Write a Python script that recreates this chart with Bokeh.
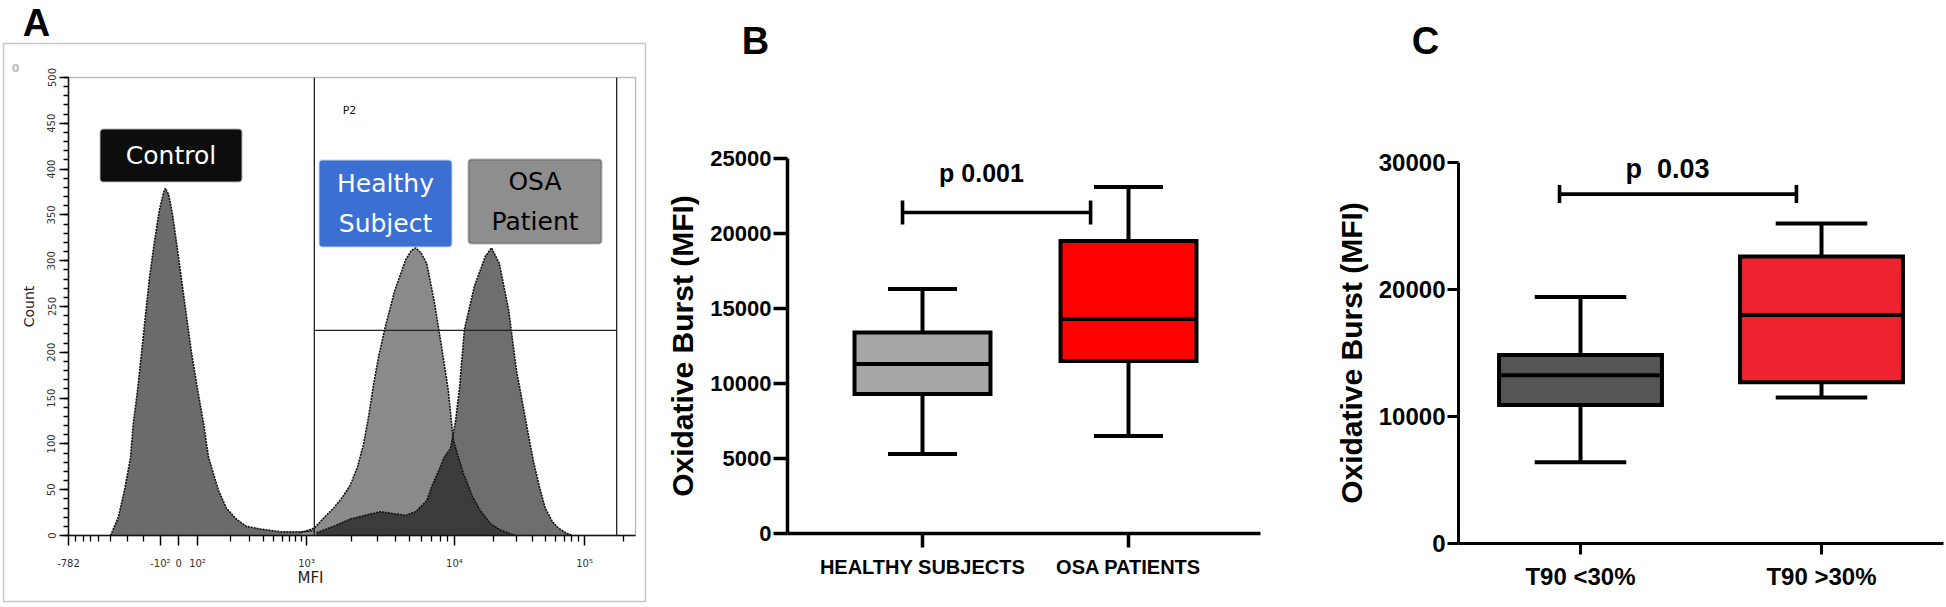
import math
from bokeh.plotting import figure
from bokeh.models import Range1d, FixedTicker, Label, BoxAnnotation
from bokeh.layouts import row
from bokeh.embed import file_html
from bokeh.resources import INLINE

# ---------------- Panel A : flow cytometry histogram (display channels 0-1024) ----------------
control_ch = [76, 90, 101, 112, 117, 125, 132, 139, 146, 155, 164, 172, 175, 181, 188, 195, 204, 213,
              222, 233, 244, 253, 271, 285, 303, 321, 347, 383, 419, 444]
control_count = [0, 20, 49, 85, 122, 160, 200, 240, 280, 320, 355, 375, 379, 372, 350, 320, 280, 240,
                 200, 160, 122, 85, 49, 30, 18, 10, 7, 4, 4, 5]
healthy_ch = [419, 444, 459, 479, 495, 509, 522, 533, 542, 551, 560, 571, 589, 609, 619, 627, 636, 647,
              661, 674, 686, 695, 713, 730, 744, 762, 780, 798, 807]
healthy_count = [3, 8, 18, 30, 42, 55, 75, 100, 130, 165, 195, 225, 267, 301, 311, 314, 309, 297,
                 254, 205, 158, 104, 68, 42, 27, 13, 6, 2, 0]
osa_ch = [448, 479, 509, 536, 563, 585, 609, 627, 647, 657, 668, 679, 690, 699, 706, 715, 733, 753,
          764, 778, 795, 809, 816, 829, 840, 851, 861, 874, 885, 898, 910]
osa_count = [3, 10, 18, 22, 26, 24, 22, 26, 38, 55, 70, 86, 95, 125, 160, 225, 272, 305,
             314, 297, 246, 180, 158, 115, 80, 52, 30, 15, 8, 3, 0]
gate_left_ch = 444
gate_right_ch = 990
gate_count = 224
a_tick_ch = [0, 166, 199, 233, 430, 697, 932]
a_tick_labels = ["-782", "-10\u00b2", "0", "10\u00b2", "10\u00b3", "10\u2074", "10\u2075"]

# ---------------- Panel B ----------------
b_groups = ["HEALTHY SUBJECTS", "OSA PATIENTS"]
b_min = [5300, 6500]
b_q1 = [9300, 11500]
b_median = [11300, 14300]
b_q3 = [13400, 19500]
b_max = [16300, 23100]
b_colors = ["#a6a6a6", "#ff0000"]
b_pvalue = "p 0.001"
b_bracket = [0.903, 1.816, 21400]

# ---------------- Panel C ----------------
c_groups = ["T90 <30%", "T90 >30%"]
c_min = [6400, 11500]
c_q1 = [10900, 12700]
c_median = [13250, 18000]
c_q3 = [14850, 22600]
c_max = [19400, 25200]
c_colors = ["#555555", "#ef2330"]
c_pvalue = "p\u00a0\u00a00.03"
c_bracket = [0.913, 1.896, 27512]

FONT = "Liberation Sans"
H = 607


def make_fig(width, xr, yr):
    p = figure(width=width, height=H, x_range=Range1d(*xr), y_range=Range1d(*yr),
               output_backend="svg", toolbar_location=None, min_border=0)
    p.min_border_left = p.min_border_right = p.min_border_top = p.min_border_bottom = 0
    p.title.visible = False
    p.grid.visible = False
    p.outline_line_color = None
    p.background_fill_color = "white"
    p.border_fill_color = "white"
    return p


# ================= Panel A (page x 0..655) =================
def ach(px):
    return (px - 68) * 1024 / 567


def acnt(py):
    return (535 - py) * 500 / 458


pA = make_fig(655, (ach(0), ach(655)), (acnt(H), acnt(0)))

pA.varea(x=control_ch, y1=0, y2=control_count, fill_color="#6b6b6b")
pA.varea(x=healthy_ch, y1=0, y2=healthy_count, fill_color="#8a8a8a")
pA.varea(x=osa_ch, y1=0, y2=osa_count, fill_color="#000000", fill_alpha=0.57)
for xs, ys in [(control_ch, control_count), (healthy_ch, healthy_count), (osa_ch, osa_count)]:
    pA.line(xs, ys, line_color="#111111", line_width=1.6, line_dash="2 1")

# gate P2
pA.segment(x0=[gate_left_ch, gate_left_ch, gate_right_ch], y0=[0, gate_count, 0],
           x1=[gate_left_ch, gate_right_ch, gate_right_ch], y1=[500, gate_count, 500],
           line_color="#222222", line_width=1.3)
# plot box (top / right)
pA.add_layout(BoxAnnotation(left=0, right=1024, bottom=0, top=500, fill_alpha=0,
                            line_color="#222222", line_width=1.4))

minor_px = [75, 83, 90, 98, 110, 127, 143]
for lo, hi in [(197, 306), (306, 454), (454, 584)]:
    minor_px += [lo + math.log10(k) * (hi - lo) for k in range(2, 10)]
minor_px.append(584 + math.log10(2) * 130)

xa = pA.xaxis[0]
xa.fixed_location = 0
xa.bounds = (0, 1024)
xa.ticker = FixedTicker(ticks=a_tick_ch, minor_ticks=[ach(v) for v in minor_px])
xa.major_label_overrides = {t: l for t, l in zip(a_tick_ch, a_tick_labels)}
xa.major_tick_out = 10
xa.major_tick_in = 0
xa.minor_tick_out = 6
xa.minor_tick_in = 0
xa.major_label_standoff = 12

ya = pA.yaxis[0]
ya.fixed_location = 0
ya.bounds = (0, 500)
ya.ticker = FixedTicker(ticks=list(range(0, 501, 50)), minor_ticks=list(range(0, 501, 10)))
ya.major_label_orientation = "vertical"
ya.major_tick_out = 9
ya.major_tick_in = 0
ya.minor_tick_out = 5
ya.minor_tick_in = 0
ya.major_label_standoff = 4
ya.axis_label = "Count"
ya.axis_label_text_font = "DejaVu Sans"
ya.axis_label_text_font_style = "normal"
ya.axis_label_text_font_size = "14px"
ya.axis_label_text_color = "#222222"
ya.axis_label_standoff = 8
for ax in (xa, ya):
    ax.axis_line_width = 1.5
    ax.axis_line_color = "#111111"
    ax.major_tick_line_width = 1.5
    ax.minor_tick_line_width = 1.3
    ax.major_label_text_font = "DejaVu Sans"
    ax.major_label_text_font_size = "10px"
    ax.major_label_text_color = "#333333"

# outer frame of panel A
pA.add_layout(BoxAnnotation(left=ach(3), right=ach(645), top=acnt(43), bottom=acnt(601),
                            fill_alpha=0, line_color="#444444", line_width=1.5))
pA.add_layout(Label(x=ach(310), y=acnt(577), text="MFI", text_align="center",
                    text_baseline="middle", text_font="DejaVu Sans", text_font_size="15px",
                    text_color="#222222"))
pA.add_layout(Label(x=ach(36), y=acnt(22), text="A", text_align="center", text_baseline="middle",
                    text_font=FONT, text_font_style="bold", text_font_size="38px", text_color="black"))
pA.add_layout(Label(x=ach(15), y=acnt(67), text="0", text_align="center", text_baseline="middle",
                    text_font="DejaVu Sans", text_font_size="11px", text_color="#bbbbbb",
                    text_font_style="bold"))
pA.add_layout(Label(x=ach(349), y=acnt(110), text="P2", text_align="center", text_baseline="middle",
                    text_font="DejaVu Sans", text_font_size="11px", text_color="#111111"))

# tag boxes
tags = [
    ("Control", 100, 241, 129, 181, "#0d0d0d", "#0d0d0d", "white"),
    ("Healthy\nSubject", 319, 451, 160, 246, "#3b70d2", "#3b70d2", "white"),
    ("OSA\nPatient", 468, 601, 159, 243, "#8e8e8e", "#222222", "black"),
]
for text, l, r, t, b, fill, edge, tcol in tags:
    pA.add_layout(BoxAnnotation(left=ach(l), right=ach(r), top=acnt(t), bottom=acnt(b),
                                fill_color=fill, fill_alpha=1, line_color=edge, line_width=2,
                                border_radius=3))
    pA.add_layout(Label(x=ach((l + r) / 2), y=acnt((t + b) / 2), text=text, text_align="center",
                        text_baseline="middle", text_font="DejaVu Sans", text_font_size="25px",
                        text_color=tcol, text_line_height=1.4))


# ================= box plot panels =================
def box_panel(groups, mins, q1, med, q3, maxs, colors, bracket, ptext, letter, *, width, fx, fy,
              page_x, axis_px, y_end, tick_step, box_w, cap_w, lw, axis_lw, tick_out, tick_font,
              cat_font, label_font, p_font, letter_px, p_px, br_tick_px):
    p = make_fig(width, (fx(page_x[0]), fx(page_x[1])), (fy(H), fy(0)))
    xs = list(range(1, len(groups) + 1))
    p.segment(x0=xs, y0=q3, x1=xs, y1=maxs, line_color="black", line_width=lw)
    p.segment(x0=xs, y0=q1, x1=xs, y1=mins, line_color="black", line_width=lw)
    p.segment(x0=[x - cap_w / 2 for x in xs], y0=maxs, x1=[x + cap_w / 2 for x in xs], y1=maxs,
              line_color="black", line_width=lw)
    p.segment(x0=[x - cap_w / 2 for x in xs], y0=mins, x1=[x + cap_w / 2 for x in xs], y1=mins,
              line_color="black", line_width=lw)
    p.vbar(x=xs, width=box_w, bottom=q1, top=q3, fill_color=colors, line_color="black",
           line_width=lw, line_join="miter")
    p.segment(x0=[x - box_w / 2 for x in xs], y0=med, x1=[x + box_w / 2 for x in xs], y1=med,
              line_color="black", line_width=lw)
    # significance bracket
    bx0, bx1, by_ = bracket
    br = abs(fy(0) - fy(br_tick_px))
    p.segment(x0=[bx0, bx0, bx1], y0=[by_, by_ - br, by_ - br],
              x1=[bx1, bx0, bx1], y1=[by_, by_ + br, by_ + br],
              line_color="black", line_width=lw * 0.9)
    p.add_layout(Label(x=fx(p_px[0]), y=fy(p_px[1]), text=ptext, text_align="center",
                       text_baseline="middle", text_font=FONT, text_font_style="bold",
                       text_font_size=p_font, text_color="black"))
    p.add_layout(Label(x=fx(letter_px[0]), y=fy(letter_px[1]), text=letter, text_align="center",
                       text_baseline="middle", text_font=FONT, text_font_style="bold",
                       text_font_size="38px", text_color="black"))
    x_lo, x_hi = fx(axis_px[0]), fx(axis_px[1])
    p.xaxis.fixed_location = 0
    p.xaxis.bounds = (x_lo, x_hi)
    p.yaxis.fixed_location = x_lo
    p.yaxis.bounds = (0, y_end)
    for ax in (p.xaxis[0], p.yaxis[0]):
        ax.axis_line_width = axis_lw
        ax.axis_line_color = "black"
        ax.major_tick_line_width = axis_lw
        ax.major_tick_line_color = "black"
        ax.major_tick_out = tick_out
        ax.major_tick_in = 0
        ax.minor_tick_line_color = None
        ax.major_label_text_font = FONT
        ax.major_label_text_font_style = "bold"
        ax.major_label_text_color = "black"
    p.xaxis.ticker = FixedTicker(ticks=xs)
    p.xaxis.major_label_overrides = {x: g for x, g in zip(xs, groups)}
    p.xaxis.major_label_text_font_size = cat_font
    p.xaxis.major_label_standoff = 8
    p.yaxis.ticker = FixedTicker(ticks=list(range(0, y_end + 1, tick_step)))
    p.yaxis.major_label_text_font_size = tick_font
    p.yaxis.major_label_standoff = 2
    p.yaxis.axis_label = "Oxidative Burst (MFI)"
    p.yaxis.axis_label_text_font = FONT
    p.yaxis.axis_label_text_font_style = "bold"
    p.yaxis.axis_label_text_font_size = label_font
    p.yaxis.axis_label_text_color = "black"
    p.yaxis.axis_label_standoff = 8
    return p


# Panel B : page x 655..1290 ; axis x 787..1260, y 0 -> 533, 25000 -> 158
def bx(px):
    return 1 + (px - 922) / 206


def by(py):
    return (533 - py) * 25000 / 375


pB = box_panel(b_groups, b_min, b_q1, b_median, b_q3, b_max, b_colors, b_bracket, b_pvalue, "B",
               width=635, fx=bx, fy=by, page_x=(655, 1290), axis_px=(787, 1260), y_end=25000,
               tick_step=5000, box_w=0.66, cap_w=0.335, lw=4, axis_lw=3.5, tick_out=14,
               tick_font="22px", cat_font="20px", label_font="30px", p_font="25px",
               letter_px=(755, 40), p_px=(981, 172), br_tick_px=12)


# Panel C : page x 1290..1946 ; axis x 1458..1943, y 0 -> 543, 30000 -> 162
def cx(px):
    return 1 + (px - 1580) / 241


def cy(py):
    return (543 - py) * 30000 / 381


pC = box_panel(c_groups, c_min, c_q1, c_median, c_q3, c_max, c_colors, c_bracket, c_pvalue, "C",
               width=656, fx=cx, fy=cy, page_x=(1290, 1946), axis_px=(1458, 1943), y_end=30000,
               tick_step=10000, box_w=0.676, cap_w=0.38, lw=4, axis_lw=3, tick_out=11,
               tick_font="24px", cat_font="24px", label_font="30px", p_font="27px",
               letter_px=(1425, 40), p_px=(1667, 168), br_tick_px=9)

layout = row(pA, pB, pC, spacing=0)
open("out.html", "w").write(file_html(layout, INLINE, title="Oxidative burst"))
